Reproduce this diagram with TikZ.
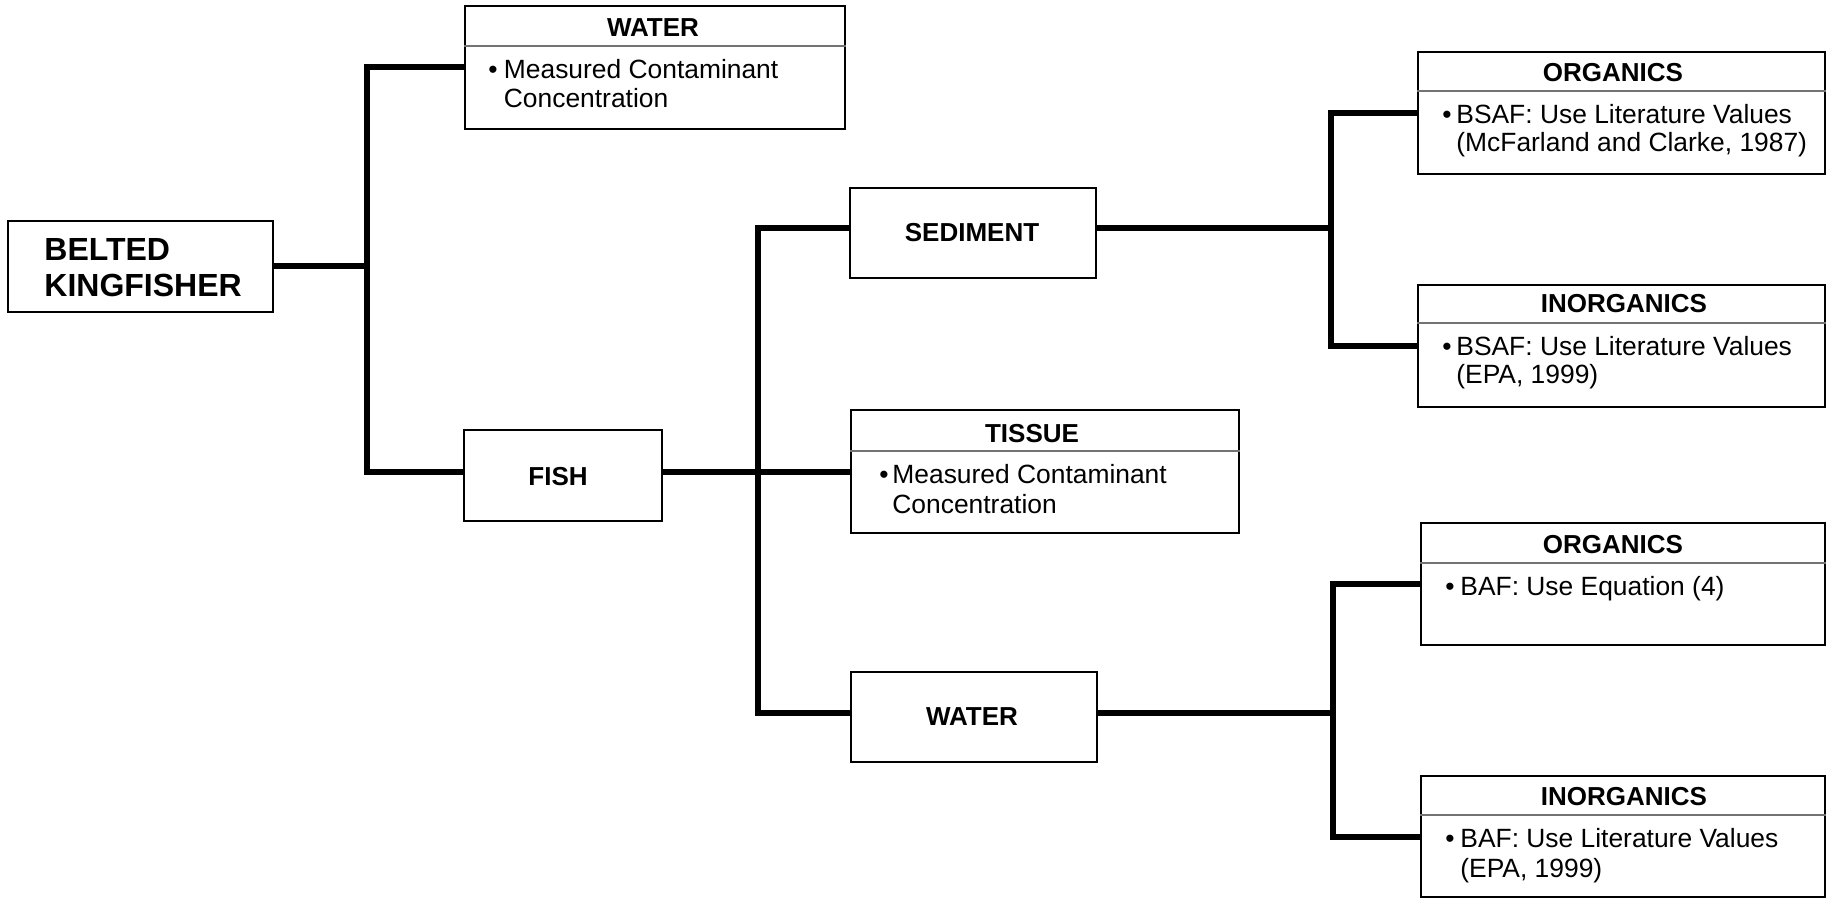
\documentclass[tikz,border=0pt]{standalone}
\usepackage{fontspec}
\setmainfont{Liberation Sans}
\begin{document}
\begin{tikzpicture}[x=0.5pt,y=-0.5pt,
  box/.style={draw, line width=1.2pt, rectangle, inner sep=0pt},
  link/.style={line width=3pt, line join=miter},
  sepline/.style={line width=0.6pt, draw=black!55},
  ttl/.style={font=\bfseries\fontsize{13}{15}\selectfont, anchor=base, inner sep=0pt},
  txt/.style={font=\fontsize{13.2}{15}\selectfont, anchor=base west, inner sep=0pt},
  bul/.style={font=\fontsize{13.2}{15}\selectfont, anchor=base west, inner sep=0pt},
  big/.style={font=\bfseries\fontsize{16}{18}\selectfont, anchor=base west, inner sep=0pt}]
\useasboundingbox (0,0) rectangle (1828,899);

% ---- boxes ----
\node[box, minimum width=132.5pt, minimum height=45.5pt] (kf) at (140.5,266.5) {};
\node[box, minimum width=190pt, minimum height=61.5pt] (water1) at (655,67.5) {};
\node[box, minimum width=99pt, minimum height=45.5pt] (fish) at (563,475.5) {};
\node[box, minimum width=123pt, minimum height=45pt] (sed) at (973,233) {};
\node[box, minimum width=194pt, minimum height=61.5pt] (tissue) at (1045,471.5) {};
\node[box, minimum width=123pt, minimum height=45pt] (water2) at (974,717) {};
\node[box, minimum width=203.5pt, minimum height=61pt] (sorg) at (1621.5,113) {};
\node[box, minimum width=203.5pt, minimum height=61pt] (sinorg) at (1621.5,346) {};
\node[box, minimum width=202pt, minimum height=61pt] (worg) at (1623,584) {};
\node[box, minimum width=202pt, minimum height=60.5pt] (winorg) at (1623,836.5) {};

% ---- header separators ----
\draw[sepline] (water1.west |- 0,46) -- (water1.east |- 0,46);
\draw[sepline] (sorg.west |- 0,91) -- (sorg.east |- 0,91);
\draw[sepline] (sinorg.west |- 0,323) -- (sinorg.east |- 0,323);
\draw[sepline] (tissue.west |- 0,451) -- (tissue.east |- 0,451);
\draw[sepline] (worg.west |- 0,563) -- (worg.east |- 0,563);
\draw[sepline] (winorg.west |- 0,815) -- (winorg.east |- 0,815);

% ---- simple box labels ----
\node[big] (kf-l1) at (44,260) {BELTED};
\node[big] (kf-l2) at (44,296) {KINGFISHER};
\node[ttl] (fish-t) at (558,485) {FISH};
\node[ttl] (sed-t) at (972,242) {SEDIMENT};
\node[ttl] (water2-t) at (972,725) {WATER};

% ---- titled boxes ----
\node[ttl] (water1-t) at (653,37) {WATER};
\node[bul] (water1-b) at (488,79) {•};
\node[txt] (water1-l1) at (503.5,79) {Measured Contaminant};
\node[txt] (water1-l2) at (503.5,108) {Concentration};

\node[ttl] (sorg-t) at (1613,82) {ORGANICS};
\node[bul] (sorg-b) at (1442,124) {•};
\node[txt] (sorg-l1) at (1456,124) {BSAF: Use Literature Values};
\node[txt] (sorg-l2) at (1456,152) {(McFarland and Clarke, 1987)};

\node[ttl] (sinorg-t) at (1624,313) {INORGANICS};
\node[bul] (sinorg-b) at (1442,355) {•};
\node[txt] (sinorg-l1) at (1456,355) {BSAF: Use Literature Values};
\node[txt] (sinorg-l2) at (1456,383) {(EPA, 1999)};

\node[ttl] (tissue-t) at (1032,442) {TISSUE};
\node[bul] (tissue-b) at (879,483) {•};
\node[txt] (tissue-l1) at (892,483) {Measured Contaminant};
\node[txt] (tissue-l2) at (892,513) {Concentration};

\node[ttl] (worg-t) at (1613,553) {ORGANICS};
\node[bul] (worg-b) at (1445,595) {•};
\node[txt] (worg-l1) at (1460,595) {BAF: Use Equation (4)};

\node[ttl] (winorg-t) at (1624,805) {INORGANICS};
\node[bul] (winorg-b) at (1445,847) {•};
\node[txt] (winorg-l1) at (1460,847) {BAF: Use Literature Values};
\node[txt] (winorg-l2) at (1460,877) {(EPA, 1999)};

% ---- branch points ----
\coordinate (j1) at (367,266);
\coordinate (j2) at (758,472);
\coordinate (j3) at (1331,228);
\coordinate (j4) at (1333,713);

% ---- connectors ----
\draw[link] (kf.east |- j1) -- (j1);
\draw[link] (water1.west) -| (j1);
\draw[link] (fish.west |- j2) -| (j1);
\draw[link] (fish.east |- j2) -- (tissue.west |- j2);
\draw[link] (sed.west |- j3) -| (j2);
\draw[link] (water2.west |- j4) -| (j2);
\draw[link] (sed.east |- j3) -- (j3);
\draw[link] (sorg.west) -| (j3);
\draw[link] (sinorg.west) -| (j3);
\draw[link] (water2.east |- j4) -- (j4);
\draw[link] (worg.west) -| (j4);
\draw[link] (winorg.west) -| (j4);
\end{tikzpicture}
\end{document}
